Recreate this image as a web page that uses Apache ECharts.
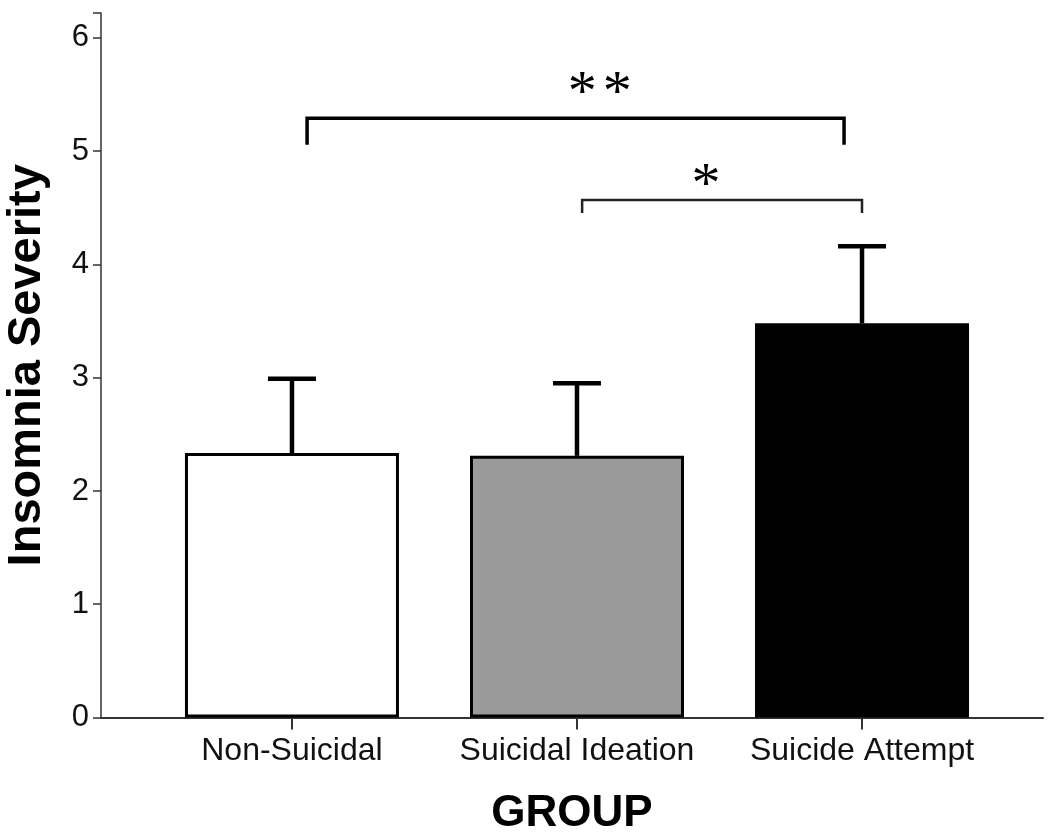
<!DOCTYPE html>
<html>
<head>
<meta charset="utf-8">
<title>Insomnia Severity by Group</title>
<script src="https://cdn.jsdelivr.net/npm/echarts@6/dist/echarts.min.js"></script>
<style>
  html, body { margin: 0; padding: 0; background: #fff; }
  #chart { width: 1050px; height: 840px; }
</style>
</head>
<body>
<div id="chart"></div>
<script>
// groups on the x axis
const groups = ['Non-Suicidal', 'Suicidal Ideation', 'Suicide Attempt'];
// mean insomnia severity and upper error (mean + error)
const means = [2.335, 2.31, 3.48];
const errorTops = [2.99, 2.95, 4.16];
const barColors = ['#ffffff', '#9a9a9a', '#000000'];
// y axis ticks
const yTicks = [0, 1, 2, 3, 4, 5, 6];

// significance brackets (x in group index units, y in axis units)
const bracketFrom = [0.053, 1.018];
const bracketTo = [1.937, 2.0];
const bracketTop = [5.29, 4.57];
const bracketLegEnd = [5.056, 4.455];
const bracketMarks = ['**', '*'];
const markX = [1.08, 1.453];
const markY = [5.5, 4.69];

const chart = echarts.init(document.getElementById('chart'));

const barData = means.map((m, i) => ({
  value: [i, m],
  itemStyle: { color: barColors[i] }
}));
const errData = means.map((m, i) => [i, m, errorTops[i]]);
const bracketData = bracketFrom.map((f, i) => [f, bracketTo[i], bracketTop[i], bracketLegEnd[i], markX[i], markY[i], i]);

chart.setOption({
  animation: false,
  backgroundColor: '#fff',
  grid: { left: 101, right: 7, top: 13, bottom: 122.5, outerBoundsMode: 'none' },
  xAxis: {
    type: 'value',
    min: -0.67,
    max: 2.635,
    splitLine: { show: false },
    axisLine: { show: true, onZero: false, lineStyle: { color: '#333', width: 2 } },
    axisTick: { show: true, customValues: [0, 1, 2], length: 12, lineStyle: { color: '#333', width: 2 } },
    axisLabel: {
      customValues: [0, 1, 2],
      formatter: v => groups[Math.round(v)] || '',
      color: '#111',
      fontFamily: 'Liberation Sans',
      fontSize: 32,
      margin: 18
    },
    name: 'GROUP',
    nameLocation: 'middle',
    nameGap: 74,
    nameTextStyle: { fontFamily: 'Liberation Sans', fontWeight: 'bold', fontSize: 44, color: '#000' }
  },
  yAxis: {
    type: 'value',
    min: 0,
    max: 6.22,
    interval: 1,
    splitLine: { show: false },
    axisLine: { show: true, onZero: false, lineStyle: { color: '#333', width: 1.5 } },
    axisTick: { show: true, length: 8, lineStyle: { color: '#333', width: 1.5 } },
    axisLabel: {
      customValues: yTicks,
      color: '#111',
      fontFamily: 'Liberation Sans',
      fontSize: 31,
      margin: 12
    },
    name: 'Insomnia Severity',
    nameLocation: 'middle',
    nameGap: 50,
    nameTextStyle: { fontFamily: 'Liberation Sans', fontWeight: 'bold', fontSize: 47, color: '#000' }
  },
  series: [
    {
      type: 'bar',
      data: barData,
      barWidth: 214,
      itemStyle: { borderColor: '#000', borderWidth: 3 },
      z: 2
    },
    {
      type: 'custom',
      data: errData,
      z: 3,
      renderItem: (params, api) => {
        const base = api.coord([api.value(0), api.value(1)]);
        const top = api.coord([api.value(0), api.value(2)]);
        const cap = 24;
        return {
          type: 'group',
          children: [
            { type: 'line', shape: { x1: base[0], y1: base[1], x2: top[0], y2: top[1] },
              style: { stroke: '#000', lineWidth: 4.5 } },
            { type: 'line', shape: { x1: top[0] - cap, y1: top[1], x2: top[0] + cap, y2: top[1] },
              style: { stroke: '#000', lineWidth: 4.5 } }
          ]
        };
      }
    },
    {
      type: 'custom',
      data: bracketData,
      z: 4,
      renderItem: (params, api) => {
        const idx = api.value(6);
        const a = api.coord([api.value(0), api.value(2)]);
        const b = api.coord([api.value(1), api.value(2)]);
        const legA = api.coord([api.value(0), api.value(3)]);
        const legB = api.coord([api.value(1), api.value(3)]);
        const m = api.coord([api.value(4), api.value(5)]);
        const lw = idx === 0 ? 3.5 : 2.5;
        const col = idx === 0 ? '#000' : '#222';
        const chars = bracketMarks[idx].split('');
        const gap = 35;
        const texts = chars.map((c, k) => ({
          type: 'text',
          x: m[0] + (k - (chars.length - 1) / 2) * gap,
          y: m[1],
          style: {
            text: c,
            fill: '#000',
            font: '58px "Liberation Serif"',
            align: 'center',
            verticalAlign: 'middle'
          }
        }));
        return {
          type: 'group',
          children: [
            { type: 'polyline', shape: { points: [[legA[0], legA[1]], [a[0], a[1]], [b[0], b[1]], [legB[0], legB[1]]] },
              style: { stroke: col, lineWidth: lw, fill: 'none' } }
          ].concat(texts)
        };
      }
    }
  ]
});
</script>
</body>
</html>
